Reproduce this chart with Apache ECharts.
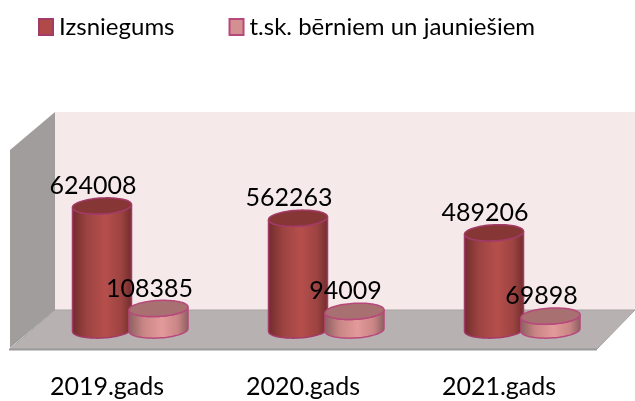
<!DOCTYPE html>
<html><head><meta charset="utf-8">
<style>html,body{margin:0;padding:0;background:#fff}#c{width:635px;height:401px}</style>
<script src="https://cdn.jsdelivr.net/npm/echarts@6/dist/echarts.min.js"></script>
</head><body><div id="c"></div>
<script>
const categories = ['2019.gads','2020.gads','2021.gads'];
const issued = [624008,562263,489206];
const youth = [108385,94009,69898];
const names = ['Izsniegums','t.sk. bērniem un jauniešiem'];
const FONT = 'Lato, "Open Sans", sans-serif';

function cylinder(cx, top, base, rx, ry, colors){
  const tilt = 0.05, n = 40;
  const ty = (x, y) => [x, y - tilt*(x-cx)];
  const body = [];
  for(let i=0;i<=n;i++){const a=Math.PI*i/n; body.push(ty(cx-rx*Math.cos(a), base+ry*Math.sin(a)));}
  for(let i=0;i<=n;i++){const a=Math.PI*i/n; body.push(ty(cx+rx*Math.cos(a), top+ry*Math.sin(a)));}
  const cap = [];
  for(let i=0;i<n*2;i++){const a=Math.PI*i/n; cap.push(ty(cx+rx*Math.cos(a), top+ry*Math.sin(a)));}
  return [
    {type:'polygon',shape:{points:body},style:{
      fill:{type:'linear',x:0,y:0,x2:1,y2:0,colorStops:[
        {offset:0,color:colors.edge},{offset:.25,color:colors.side},{offset:.55,color:colors.mid},{offset:.82,color:colors.side},{offset:1,color:colors.edge}]},
      stroke:colors.line,lineWidth:1.5}},
    {type:'polygon',shape:{points:cap},style:{fill:colors.cap,stroke:colors.line,lineWidth:1.5}}
  ];
}
function renderer(dx, colors, labelDx){
  return function(params, api){
    const c = api.coord([api.value(0), api.value(1)]);
    const b = api.coord([api.value(0), 0]);
    const cx = c[0]+dx;
    const kids = cylinder(cx, c[1], b[1], 29.5, 8, colors);
    kids.push({type:'text',z2:100,style:{text:String(api.value(1)),x:cx+labelDx,y:c[1]-20,
      align:'center',verticalAlign:'middle',font:'25px '+FONT,fill:'#000'}});
    return {type:'group',children:kids};
  };
}
const bigC = {edge:'#6f2c2b',side:'#9c4341',mid:'#b64f4c',cap:'#853635',line:'#a33a68'};
const smallC = {edge:'#8a5f5f',side:'#c98585',mid:'#e39a9a',cap:'#a87070',line:'#b8487c'};
const chart = echarts.init(document.getElementById('c'));
chart.setOption({
  animation:false,
  backgroundColor:'#fff',
  textStyle:{fontFamily:FONT},
  legend:{left:33,top:10,itemWidth:14,itemHeight:16,itemGap:54,icon:'rect',
    textStyle:{fontSize:24,color:'#000',fontFamily:FONT,padding:[0,0,0,1]},
    data:names},
  grid:{left:9,width:588,top:171,bottom:71,containLabel:false},
  xAxis:{type:'category',data:categories,axisLine:{show:false},axisTick:{show:false},
    axisLabel:{margin:44,fontSize:25,color:'#000',fontFamily:FONT}},
  yAxis:{type:'value',min:0,max:800000,show:false},
  graphic:[
    {type:'rect',z:-5,shape:{x:55,y:112,width:580,height:199},style:{fill:'#f5e9ea'}},
    {type:'polygon',z:-4,shape:{points:[[10,150],[55,112],[55,310],[10,348]]},style:{fill:'#a19d9d'}},
    {type:'polygon',z:-4,shape:{points:[[10,349],[55,310],[635,310],[597,349]]},style:{fill:'#b8b1b1',stroke:'#a8a3a3',lineWidth:1}},
    {type:'line',z:-3,shape:{x1:9,y1:349.5,x2:597,y2:349.5},style:{stroke:'#9a9a9a',lineWidth:2}}
  ],
  series:[
    {name:names[0],type:'custom',z:3,itemStyle:{color:'#b04a48',borderColor:'#a33a68',borderWidth:1},
     encode:{x:0,y:1},data:issued.map((v,i)=>[i,v]),renderItem:renderer(-5,bigC,-9)},
    {name:names[1],type:'custom',z:4,itemStyle:{color:'#d49090',borderColor:'#b8487c',borderWidth:1},
     encode:{x:0,y:1},data:youth.map((v,i)=>[i,v]),renderItem:renderer(51.5,smallC,-9)}
  ]
});
</script></body></html>
